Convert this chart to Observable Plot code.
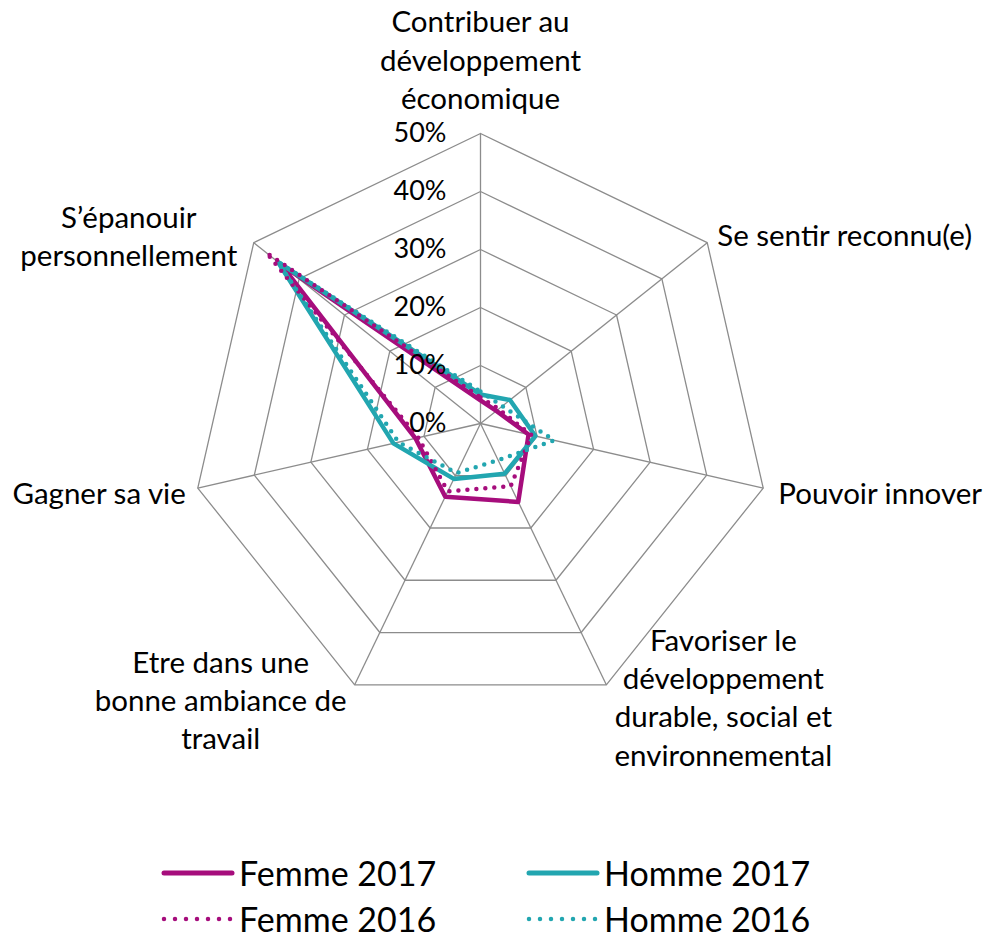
<!DOCTYPE html>
<html>
<head>
<meta charset="utf-8">
<script src="https://cdn.jsdelivr.net/npm/d3@7"></script>
<script src="https://cdn.jsdelivr.net/npm/@observablehq/plot@0.6"></script>
<style>
  html, body { margin: 0; padding: 0; background: #fff; }
  #wrap { position: relative; width: 984px; height: 941px; overflow: hidden; font-family: Lato, "Open Sans", sans-serif; }
  #legend { position: absolute; left: 0; top: 0; width: 984px; height: 941px; pointer-events: none; }
  .item { position: absolute; display: flex; align-items: center; transform: translateY(-50%); font-size: 34px; line-height: 1; color: #000; white-space: nowrap; }
  .item svg { display: block; margin-right: 4px; }
</style>
</head>
<body>
<div id="wrap"><div id="chart"></div><div id="legend"></div></div>
<script>
// ---- data ----
const categories = [
  "Contribuer au\ndéveloppement\néconomique",
  "Se sentir reconnu(e)",
  "Pouvoir innover",
  "Favoriser le\ndéveloppement\ndurable, social et\nenvironnemental",
  "Etre dans une\nbonne ambiance de\ntravail",
  "Gagner sa vie",
  "S’épanouir\npersonnellement"
];
const femme2017 = [0.040, 0.035, 0.085, 0.150, 0.140, 0.115, 0.440];
const homme2017 = [0.050, 0.065, 0.097, 0.096, 0.106, 0.154, 0.447];
const femme2016 = [0.045, 0.040, 0.090, 0.120, 0.130, 0.110, 0.472];
const homme2016 = [0.055, 0.048, 0.130, 0.070, 0.095, 0.145, 0.447];
const seriesNames = ["Femme 2017", "Homme 2017", "Femme 2016", "Homme 2016"];
const tickValues = [0, 0.1, 0.2, 0.3, 0.4, 0.5];
const tickLabels = ["0%", "10%", "20%", "30%", "40%", "50%"];

// ---- styles / layout ----
const MAGENTA = "#A60D7C", TEAL = "#22A6B0", GRID = "#8c8c8c";
const seriesStyle = {
  "Femme 2017": {stroke: MAGENTA, dash: null},
  "Homme 2017": {stroke: TEAL, dash: null},
  "Femme 2016": {stroke: MAGENTA, dash: "0,9"},
  "Homme 2016": {stroke: TEAL, dash: "0,9"}
};
const labelLayout = [
  {anchor: "middle", dx: 0, dy: -75},
  {anchor: "start", dx: 10, dy: -9},
  {anchor: "start", dx: 15, dy: 4},
  {anchor: "middle", dx: 117, dy: 11},
  {anchor: "middle", dx: -134, dy: 14},
  {anchor: "end", dx: -12, dy: 4},
  {anchor: "middle", dx: -125, dy: -8}
];

const W = 984, H = 850, CX = 480, CY = 423, RPX = 290, RMAX = 0.5;
const unit = RPX / RMAX;
const n = categories.length;
const ang = i => 2 * Math.PI * i / n;
const px = (v, i) => v * Math.sin(ang(i));
const py = (v, i) => v * Math.cos(ang(i));

// grid rings
const rings = [];
tickValues.filter(t => t > 0).forEach(t => {
  for (let i = 0; i <= n; i++) rings.push({t, x: px(t, i % n), y: py(t, i % n)});
});
// spokes
const spokes = categories.map((c, i) => ({x1: 0, y1: 0, x2: px(RMAX, i), y2: py(RMAX, i)}));

// series
const allValues = [femme2017, homme2017, femme2016, homme2016];
const seriesData = seriesNames.map((s, k) => allValues[k].map((v, i) => ({series: s, x: px(v, i), y: py(v, i)})));

const marks = [
  Plot.line(rings, {x: "x", y: "y", z: "t", stroke: GRID, strokeWidth: 1.3}),
  Plot.link(spokes, {x1: "x1", y1: "y1", x2: "x2", y2: "y2", stroke: GRID, strokeWidth: 1.3})
];
seriesData.forEach((d, k) => {
  const st = seriesStyle[seriesNames[k]];
  marks.push(Plot.line(d, {
    x: "x", y: "y", curve: "linear-closed",
    stroke: st.stroke,
    strokeWidth: 4.5,
    strokeDasharray: st.dash || undefined,
    strokeLinecap: "round", strokeLinejoin: "round"
  }));
});
marks.push(Plot.text(tickValues, {
  x: () => 0, y: t => t, text: (t, i) => tickLabels[i],
  textAnchor: "end", dx: -34, fontSize: 27, fill: "#000"
}));
categories.forEach((c, i) => {
  const L = labelLayout[i];
  marks.push(Plot.text([c], {
    x: () => px(RMAX, i), y: () => py(RMAX, i), text: d => d,
    textAnchor: L.anchor, lineAnchor: "middle", dx: L.dx, dy: L.dy,
    fontSize: 29.5, lineHeight: 1.3, fill: "#000"
  }));
});

const chart = Plot.plot({
  width: W, height: H, margin: 0,
  x: {domain: [-CX / unit, (W - CX) / unit], axis: null},
  y: {domain: [-(H - CY) / unit, CY / unit], axis: null},
  style: {fontFamily: "Lato, 'Open Sans', sans-serif", background: "#fff", overflow: "visible"},
  marks
});
document.getElementById("chart").appendChild(chart);

// legend (HTML, below the plot)
const legendPos = [
  {left: 161, top: 873}, {left: 526, top: 873},
  {left: 161, top: 919}, {left: 526, top: 919}
];
const legend = document.getElementById("legend");
seriesNames.forEach((s, k) => {
  const st = seriesStyle[s];
  const div = document.createElement("div");
  div.className = "item";
  div.style.left = legendPos[k].left + "px";
  div.style.top = legendPos[k].top + "px";
  const dash = st.dash ? ` stroke-dasharray="0,11"` : "";
  div.innerHTML = `<svg width="74" height="10"><line x1="3" y1="5" x2="71" y2="5" stroke="${st.stroke}" stroke-width="${st.dash ? 4.5 : 5}" stroke-linecap="round"${dash}/></svg><span>${s}</span>`;
  legend.appendChild(div);
});
</script>
</body>
</html>
